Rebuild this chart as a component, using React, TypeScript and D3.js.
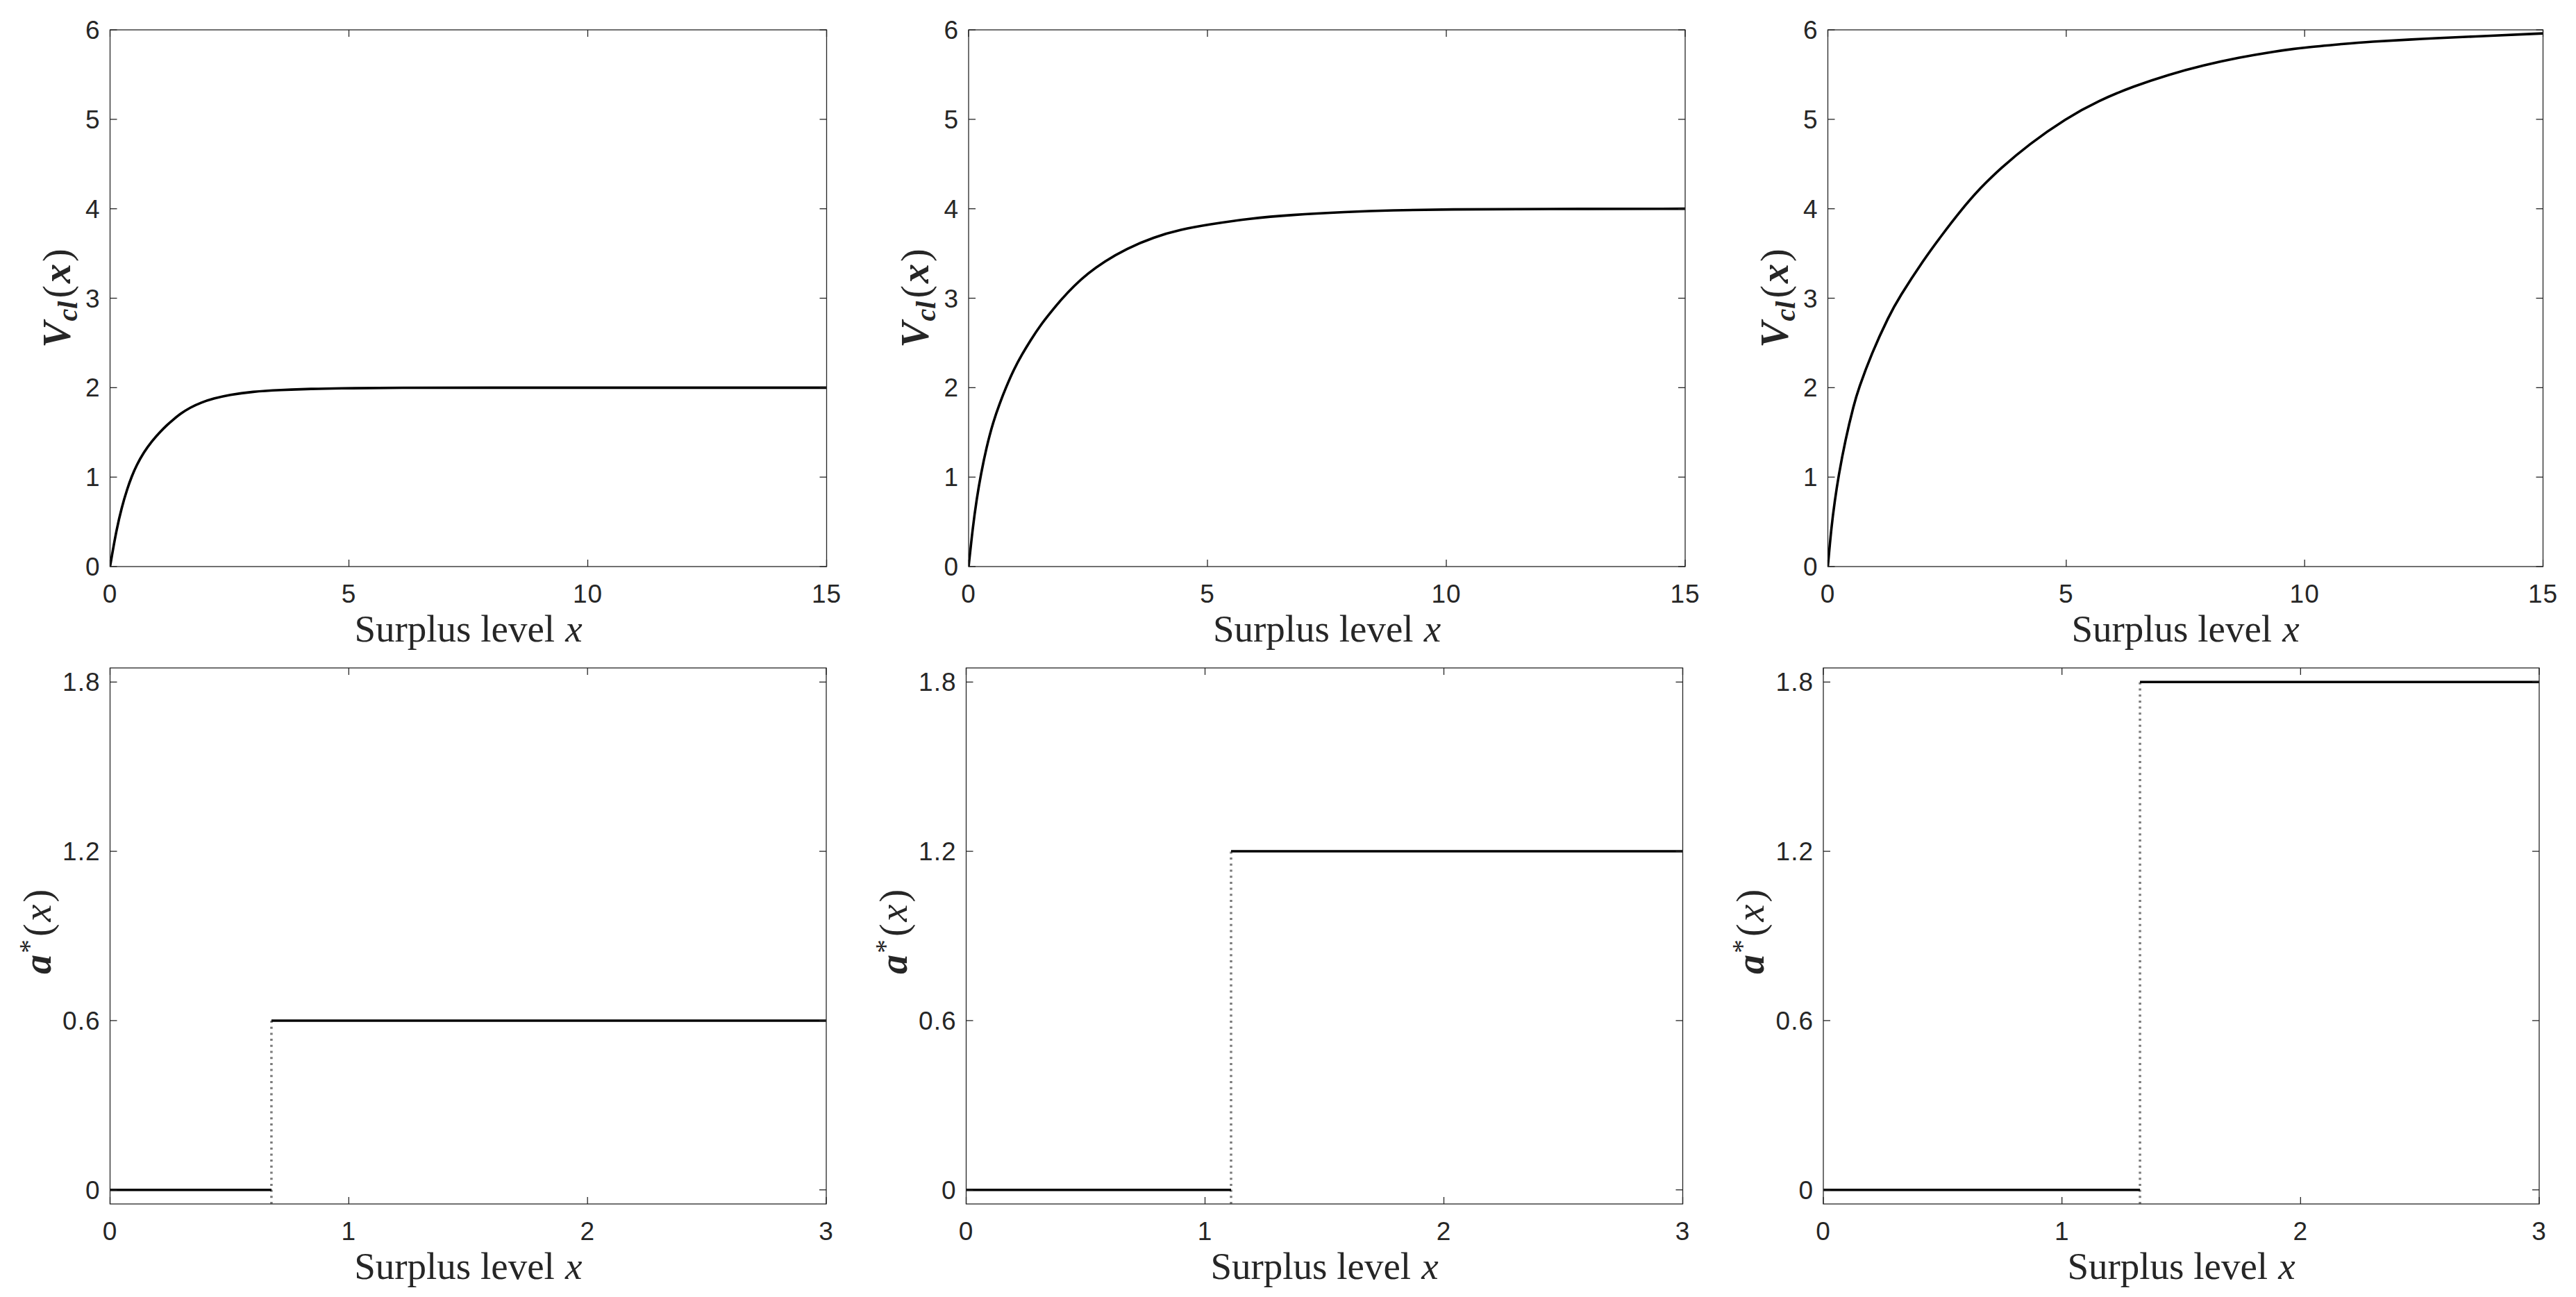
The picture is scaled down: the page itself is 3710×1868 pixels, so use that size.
import React, { useEffect, useRef } from 'react';
import * as d3 from 'd3';

const W = 3710;
const H = 1868;

// Top row: value function V_cl(x)
const v1X = [0, 0.122, 0.243, 0.364, 0.451, 0.557, 0.703, 0.872, 1.042, 1.187, 1.333, 1.478, 1.672, 1.914, 2.156, 2.496, 2.98, 3.56, 4.24, 4.725, 6, 8, 10, 12, 15];
const v1Y = [0, 0.38, 0.662, 0.875, 1.005, 1.135, 1.275, 1.4, 1.502, 1.58, 1.648, 1.71, 1.777, 1.836, 1.878, 1.921, 1.956, 1.974, 1.987, 1.993, 1.999, 2.0, 2.0, 2.0, 2.0];

const v2X = [0, 0.084, 0.17, 0.257, 0.372, 0.515, 0.659, 0.774, 0.946, 1.118, 1.291, 1.52, 1.75, 1.95, 2.209, 2.496, 2.84, 3.3, 3.874, 4.449, 5.023, 5.884, 6.745, 7.894, 8.858, 10, 12, 15];
const v2Y = [0, 0.423, 0.76, 1.03, 1.33, 1.62, 1.835, 1.992, 2.204, 2.372, 2.526, 2.71, 2.863, 2.992, 3.14, 3.277, 3.41, 3.553, 3.683, 3.769, 3.824, 3.891, 3.932, 3.965, 3.984, 3.993, 3.998, 4.0];

const v3X = [0, 0.073, 0.147, 0.22, 0.367, 0.55, 0.638, 0.917, 1.284, 1.489, 2.016, 2.383, 2.786, 3.19, 3.63, 4.217, 4.994, 5.683, 6.416, 7.15, 7.882, 8.616, 9.349, 9.994, 10.817, 11.315, 12.5, 13.5, 15];
const v3Y = [0, 0.438, 0.74, 1.0, 1.417, 1.82, 1.978, 2.383, 2.805, 3.004, 3.436, 3.7, 3.98, 4.23, 4.455, 4.72, 5.01, 5.21, 5.37, 5.5, 5.605, 5.69, 5.757, 5.804, 5.843, 5.867, 5.9, 5.925, 5.96];

// Bottom row: optimal action a*(x), a step from 0 to a level at a switch point
const switchX = [0.676, 1.109, 1.327];
const actionLevel = [0.6, 1.2, 1.8];

const topXDomain = [0, 15];
const topYDomain = [0, 6];
const botXDomain = [0, 3];
const botYDomain = [-0.05, 1.85];
const topXTicks = [0, 5, 10, 15];
const topYTicks = [0, 1, 2, 3, 4, 5, 6];
const botXTicks = [0, 1, 2, 3];
const botYTicks = [0, 0.6, 1.2, 1.8];
const xLabelWords = 'Surplus level';
const xLabelVar = 'x';

const topPanels = [
  { left: 158.5, right: 1190.5 },
  { left: 1395, right: 2427 },
  { left: 2632.5, right: 3662.5 },
];
const botPanels = [
  { left: 158.5, right: 1190 },
  { left: 1391.5, right: 2423.5 },
  { left: 2626, right: 3657 },
];
const topRow = { top: 43, bottom: 816 };
const botRow = { top: 962, bottom: 1734 };

const AXIS_COLOR = '#262626';
const TICK_FONT = '"Liberation Sans", Arial, sans-serif';
const SERIF = '"Liberation Serif", "Times New Roman", serif';

type Piece = { text: string; size: number; italic?: boolean; bold?: boolean; dy?: number; gap?: number };

function richLabel(parent: any, pieces: Piece[], cx: number, cy: number, rotate: number) {
  const grp = parent.append('g').attr('transform', `translate(${cx},${cy}) rotate(${rotate})`);
  let xpos = 0;
  const nodes: any[] = [];
  pieces.forEach((pc) => {
    const t = grp.append('text')
      .attr('x', xpos)
      .attr('y', pc.dy || 0)
      .attr('font-family', SERIF)
      .attr('font-size', pc.size)
      .attr('font-style', pc.italic ? 'italic' : 'normal')
      .attr('font-weight', pc.bold ? 'bold' : 'normal')
      .attr('fill', AXIS_COLOR)
      .text(pc.text);
    const node = t.node() as SVGTextElement;
    const w = node && node.getComputedTextLength ? node.getComputedTextLength() : pc.text.length * pc.size * 0.5;
    nodes.push({ t, x: xpos });
    xpos += w + (pc.gap ?? 3);
  });
  const total = xpos - (pieces[pieces.length - 1].gap ?? 3);
  nodes.forEach((n) => n.t.attr('x', n.x - total / 2));
}

export default function App() {
  const ref = useRef<SVGSVGElement | null>(null);

  useEffect(() => {
    document.body.style.margin = '0';
    const svg = d3.select(ref.current);
    svg.selectAll('*').remove();

    const drawAxes = (
      g: any,
      x: any,
      y: any,
      xt: number[],
      yt: number[],
      left: number,
      right: number,
      top: number,
      bottom: number
    ) => {
      const tl = 10;
      xt.forEach((t) => {
        const px = x(t);
        g.append('line').attr('x1', px).attr('x2', px).attr('y1', bottom).attr('y2', bottom - tl)
          .attr('stroke', AXIS_COLOR).attr('stroke-width', 1.3);
        g.append('line').attr('x1', px).attr('x2', px).attr('y1', top).attr('y2', top + tl)
          .attr('stroke', AXIS_COLOR).attr('stroke-width', 1.3);
        g.append('text').attr('x', px).attr('y', bottom + 52)
          .attr('text-anchor', 'middle').attr('font-family', TICK_FONT).attr('font-size', 37)
          .attr('letter-spacing', 1).attr('fill', AXIS_COLOR).text(String(t));
      });
      yt.forEach((t) => {
        const py = y(t);
        g.append('line').attr('x1', left).attr('x2', left + tl).attr('y1', py).attr('y2', py)
          .attr('stroke', AXIS_COLOR).attr('stroke-width', 1.3);
        g.append('line').attr('x1', right).attr('x2', right - tl).attr('y1', py).attr('y2', py)
          .attr('stroke', AXIS_COLOR).attr('stroke-width', 1.3);
        g.append('text').attr('x', left - 14).attr('y', py + 13)
          .attr('text-anchor', 'end').attr('font-family', TICK_FONT).attr('font-size', 37)
          .attr('letter-spacing', 1).attr('fill', AXIS_COLOR).text(String(t));
      });
      g.append('rect').attr('x', left).attr('y', top).attr('width', right - left).attr('height', bottom - top)
        .attr('fill', 'none').attr('stroke', AXIS_COLOR).attr('stroke-width', 1.3);
      richLabel(g, [
        { text: xLabelWords, size: 55, gap: 15 },
        { text: xLabelVar, size: 55, italic: true },
      ], (left + right) / 2, bottom + 108, 0);
    };

    const topSeries = [
      { xs: v1X, ys: v1Y },
      { xs: v2X, ys: v2Y },
      { xs: v3X, ys: v3Y },
    ];

    topPanels.forEach((p, i) => {
      const g = svg.append('g');
      const x = d3.scaleLinear().domain(topXDomain).range([p.left, p.right]);
      const y = d3.scaleLinear().domain(topYDomain).range([topRow.bottom, topRow.top]);
      const clipId = `clip-top-${i}`;
      svg.append('clipPath').attr('id', clipId).append('rect')
        .attr('x', p.left).attr('y', topRow.top - 2).attr('width', p.right - p.left)
        .attr('height', topRow.bottom - topRow.top + 4);
      const s = topSeries[i];
      const pts: [number, number][] = s.xs.map((v, k) => [v, s.ys[k]]);
      const line = d3.line<[number, number]>().x((d) => x(d[0])).y((d) => y(d[1])).curve(d3.curveBasis);
      g.append('path').attr('d', line(pts)).attr('fill', 'none').attr('stroke', '#000')
        .attr('stroke-width', 3.6).attr('stroke-linejoin', 'round').attr('clip-path', `url(#${clipId})`);
      drawAxes(g, x, y, topXTicks, topYTicks, p.left, p.right, topRow.top, topRow.bottom);
      const cy = (topRow.top + topRow.bottom) / 2;
      richLabel(g, [
        { text: 'V', size: 56, italic: true, bold: true, gap: 1 },
        { text: 'cl', size: 40, italic: true, bold: true, dy: 10, gap: 4 },
        { text: '(', size: 56, gap: 3 },
        { text: 'x', size: 56, italic: true, bold: true, gap: 3 },
        { text: ')', size: 56 },
      ], p.left - 58, cy, -90);
    });

    botPanels.forEach((p, i) => {
      const g = svg.append('g');
      const x = d3.scaleLinear().domain(botXDomain).range([p.left, p.right]);
      const y = d3.scaleLinear().domain(botYDomain).range([botRow.bottom, botRow.top]);
      const sx = switchX[i];
      const lvl = actionLevel[i];
      const line = d3.line<[number, number]>().x((d) => x(d[0])).y((d) => y(d[1]));
      g.append('path').attr('d', line([[sx, botYDomain[0]], [sx, lvl]]))
        .attr('fill', 'none').attr('stroke', '#7a7a7a').attr('stroke-width', 3.5)
        .attr('stroke-dasharray', '3 5.7');
      g.append('path').attr('d', line([[botXDomain[0], 0], [sx, 0]]))
        .attr('fill', 'none').attr('stroke', '#000').attr('stroke-width', 3.5);
      g.append('path').attr('d', line([[sx, lvl], [botXDomain[1], lvl]]))
        .attr('fill', 'none').attr('stroke', '#000').attr('stroke-width', 3.5);
      drawAxes(g, x, y, botXTicks, botYTicks, p.left, p.right, botRow.top, botRow.bottom);
      const cy = (botRow.top + botRow.bottom) / 2;
      richLabel(g, [
        { text: 'a', size: 56, italic: true, bold: true, gap: 2 },
        { text: '*', size: 40, dy: -18, gap: 4 },
        { text: '(', size: 56, gap: 3 },
        { text: 'x', size: 56, italic: true, gap: 3 },
        { text: ')', size: 56 },
      ], p.left - 86, cy - 6, -90);
    });
  }, []);

  return (
    <svg
      ref={ref}
      width={W}
      height={H}
      viewBox={`0 0 ${W} ${H}`}
      style={{ display: 'block', background: '#fff' }}
    />
  );
}
